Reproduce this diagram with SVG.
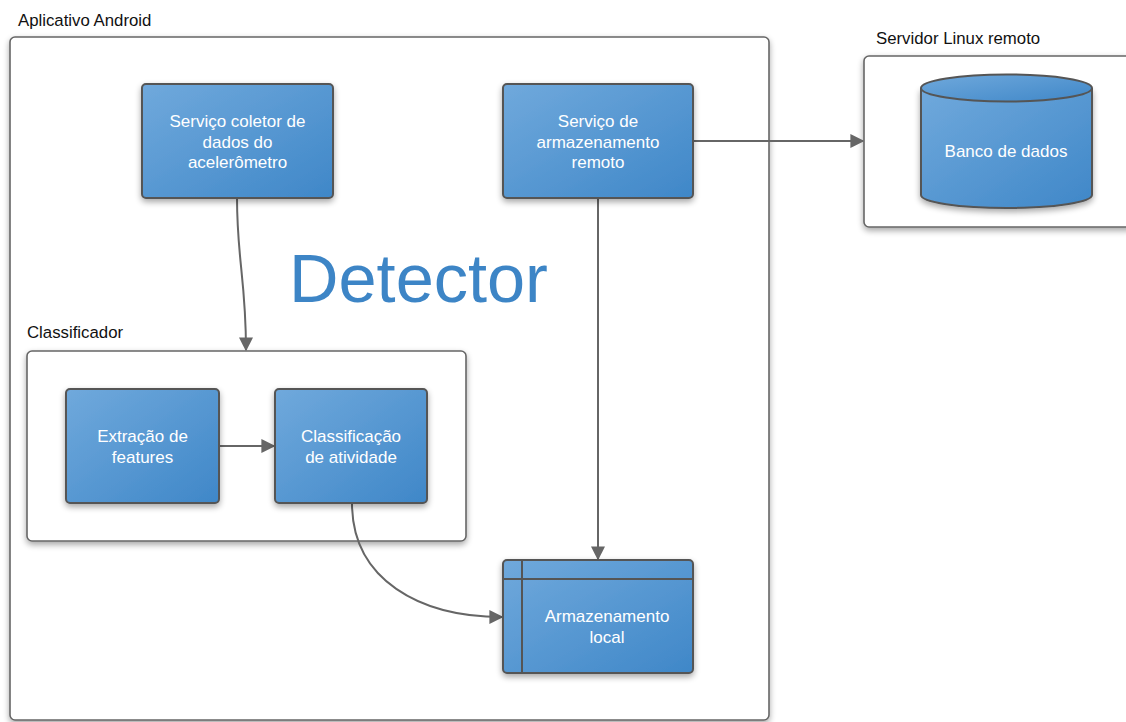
<svg xmlns="http://www.w3.org/2000/svg" width="1126" height="722" viewBox="0 0 1126 722">
<style>
.cont{fill:#fff;stroke:#666;stroke-width:1.6}
.box{fill:url(#g);stroke:#555;stroke-width:2}
.lbl{font-family:"Liberation Sans",Arial,sans-serif;font-size:16.8px;fill:#111}
.t{font-family:"Liberation Sans",Arial,sans-serif;font-size:17px;fill:#fff;text-anchor:middle}
.edge{fill:none;stroke:#666;stroke-width:2}
</style>
<defs>
<linearGradient id="g" x1="0" y1="0" x2="1" y2="1">
<stop offset="0" stop-color="#70a9dc"/>
<stop offset="1" stop-color="#3f87c8"/>
</linearGradient>
<filter id="sh" x="-10%" y="-10%" width="125%" height="130%">
<feGaussianBlur in="SourceAlpha" stdDeviation="3"/>
<feOffset dx="0" dy="3" result="b"/>
<feComponentTransfer><feFuncA type="linear" slope="0.35"/></feComponentTransfer>
<feMerge><feMergeNode/><feMergeNode in="SourceGraphic"/></feMerge>
</filter>
<marker id="ah" viewBox="0 0 10 10" refX="9" refY="5" markerWidth="14" markerHeight="14" markerUnits="userSpaceOnUse" orient="auto">
<path d="M0,0 L10,5 L0,10 z" fill="#666"/>
</marker>
</defs>
<rect width="1126" height="722" fill="#fff"/>

<g id="aplicativo">
<rect class="cont" x="10" y="37" width="759" height="683" rx="5" filter="url(#sh)"/>
<text class="lbl" x="18" y="26">Aplicativo Android</text>
</g>
<g id="servidor">
<rect class="cont" x="864" y="56" width="270" height="171" rx="5" filter="url(#sh)"/>
<text class="lbl" x="876" y="44">Servidor Linux remoto</text>
</g>
<g id="classificador">
<rect class="cont" x="27" y="351" width="439" height="190" rx="5" filter="url(#sh)"/>
<text class="lbl" x="27" y="338">Classificador</text>
</g>

<text id="detector" x="418.5" y="302" text-anchor="middle" font-family="'Liberation Sans',Arial,sans-serif" font-size="68.5" fill="#3d85c6">Detector</text>

<g id="connectors">
<path class="edge" d="M237,198 C237,260 246,280 246,350" marker-end="url(#ah)"/>
<path class="edge" d="M219,446 L274,446" marker-end="url(#ah)"/>
<path class="edge" d="M598,198 L598,559" marker-end="url(#ah)"/>
<path class="edge" d="M693,141 L863,141" marker-end="url(#ah)"/>
<path class="edge" d="M352,503 C352,580 420,617 502,617" marker-end="url(#ah)"/>
</g>

<g id="coletor">
<rect class="box" x="142" y="84" width="191" height="114" rx="4" filter="url(#sh)"/>
<text class="t" x="237.5" y="127">Serviço coletor de</text>
<text class="t" x="237.5" y="147.5">dados do</text>
<text class="t" x="237.5" y="168">acelerômetro</text>
</g>
<g id="remoto">
<rect class="box" x="503" y="84" width="190" height="114" rx="4" filter="url(#sh)"/>
<text class="t" x="598" y="127">Serviço de</text>
<text class="t" x="598" y="147.5">armazenamento</text>
<text class="t" x="598" y="168">remoto</text>
</g>
<g id="banco">
<path class="box" d="M921,88 L921,195 A85.5,13 0 0 0 1092,195 L1092,88" filter="url(#sh)"/>
<ellipse class="box" cx="1006.5" cy="88" rx="85.5" ry="13.5"/>
<text class="t" x="1006" y="157">Banco de dados</text>
</g>
<g id="extracao">
<rect class="box" x="66" y="389" width="153" height="114" rx="4" filter="url(#sh)"/>
<text class="t" x="142.5" y="442">Extração de</text>
<text class="t" x="142.5" y="463">features</text>
</g>
<g id="classificacao">
<rect class="box" x="275" y="389" width="152" height="114" rx="4" filter="url(#sh)"/>
<text class="t" x="351" y="442">Classificação</text>
<text class="t" x="351" y="463">de atividade</text>
</g>
<g id="local">
<rect class="box" x="503" y="560" width="190" height="113" rx="4" filter="url(#sh)"/>
<line x1="522" y1="560" x2="522" y2="673" stroke="#555" stroke-width="2"/>
<line x1="503" y1="579" x2="693" y2="579" stroke="#555" stroke-width="2"/>
<text class="t" x="607" y="622">Armazenamento</text>
<text class="t" x="607" y="643">local</text>
</g>
</svg>
